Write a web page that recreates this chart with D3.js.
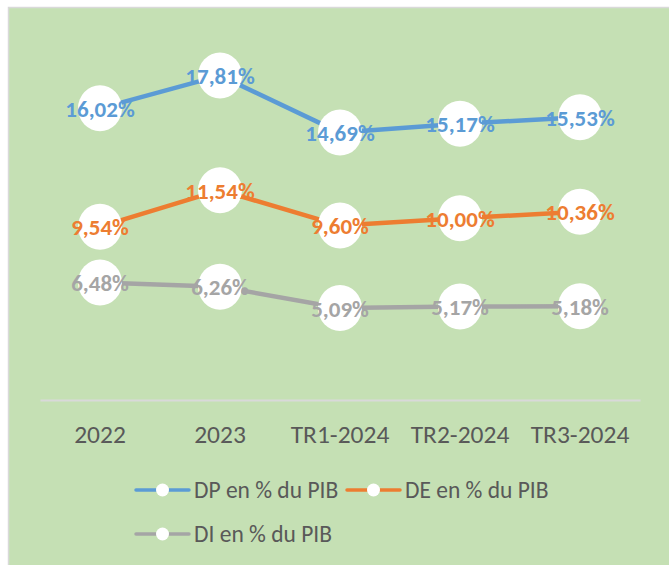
<!DOCTYPE html>
<html>
<head>
<meta charset="utf-8">
<script src="https://cdn.jsdelivr.net/npm/d3@7"></script>
<style>
  html, body { margin: 0; padding: 0; background: #ffffff; }
  svg { display: block; }
  text { font-family: Carlito, Calibri, Lato, sans-serif; }
</style>
</head>
<body>
<svg id="chart" width="669" height="565"></svg>
<script>
const categories = ["2022", "2023", "TR1-2024", "TR2-2024", "TR3-2024"];
const dpValues = [16.02, 17.81, 14.69, 15.17, 15.53];
const deValues = [9.54, 11.54, 9.60, 10.00, 10.36];
const diValues = [6.48, 6.26, 5.09, 5.17, 5.18];
const seriesNames = ["DP en % du PIB", "DE en % du PIB", "DI en % du PIB"];
const seriesColors = ["#5B9BD5", "#ED7D31", "#A5A5A5"];

const series = [
  { name: seriesNames[0], values: dpValues, color: seriesColors[0] },
  { name: seriesNames[1], values: deValues, color: seriesColors[1] },
  { name: seriesNames[2], values: diValues, color: seriesColors[2] }
];

const svg = d3.select("#chart");

// chart area background with border
svg.append("rect")
  .attr("x", 8.5).attr("y", 7.5)
  .attr("width", 669).attr("height", 565)
  .attr("fill", "#C5E0B4")
  .attr("stroke", "#D9D9D9")
  .attr("stroke-width", 1.5);

const x = d3.scaleBand().domain(categories).range([40, 640]);
const y = d3.scaleLinear().domain([0, 20]).range([401, 35.6]);

// category axis
const xAxis = d3.axisBottom(x).tickSize(0).tickPadding(0);
const axisG = svg.append("g").attr("transform", "translate(0,400)").call(xAxis);
axisG.select(".domain").attr("stroke", "#D9D9D9").attr("stroke-width", 2);
axisG.selectAll(".tick text")
  .attr("y", 43).attr("dy", null)
  .attr("fill", "#595959")
  .style("font-size", "25.5px")
  .style("font-family", "Carlito, Calibri, Lato, sans-serif");

const cx = c => x(c) + x.bandwidth() / 2;
const line = d3.line().x((d, i) => cx(categories[i])).y(d => y(d));
const fmt = v => d3.format(".2f")(v).replace(".", ",") + "%";

// lines
series.forEach(s => {
  svg.append("path")
    .datum(s.values)
    .attr("d", line)
    .attr("fill", "none")
    .attr("stroke", s.color)
    .attr("stroke-width", 4.5)
    .attr("stroke-linejoin", "round")
    .attr("stroke-linecap", "round");
});

// markers
series.forEach(s => {
  svg.append("g").selectAll("ellipse")
    .data(s.values)
    .join("ellipse")
    .attr("cx", (d, i) => cx(categories[i]))
    .attr("cy", d => y(d))
    .attr("rx", 22)
    .attr("ry", 23)
    .attr("fill", "#ffffff");
});

// data labels
series.forEach(s => {
  svg.append("g").selectAll("text")
    .data(s.values)
    .join("text")
    .attr("x", (d, i) => cx(categories[i]))
    .attr("y", d => y(d) + 8.5)
    .attr("text-anchor", "middle")
    .attr("fill", s.color)
    .style("font-weight", "bold")
    .style("font-size", "23px")
    .text(d => fmt(d));
});

// legend
const legendItems = [
  { s: series[0], x: 136, y: 490 },
  { s: series[1], x: 347, y: 490 },
  { s: series[2], x: 136, y: 534 }
];
legendItems.forEach(it => {
  const g = svg.append("g").attr("transform", `translate(${it.x},${it.y})`);
  g.append("line")
    .attr("x1", 0).attr("x2", 53).attr("y1", 0).attr("y2", 0)
    .attr("stroke", it.s.color).attr("stroke-width", 3.5)
    .attr("stroke-linecap", "round");
  g.append("circle").attr("cx", 26.5).attr("cy", 0).attr("r", 6.5).attr("fill", "#ffffff");
  g.append("text")
    .attr("x", 58).attr("y", 7.5)
    .attr("fill", "#595959")
    .style("font-size", "23.5px")
    .text(it.s.name);
});
</script>
</body>
</html>
